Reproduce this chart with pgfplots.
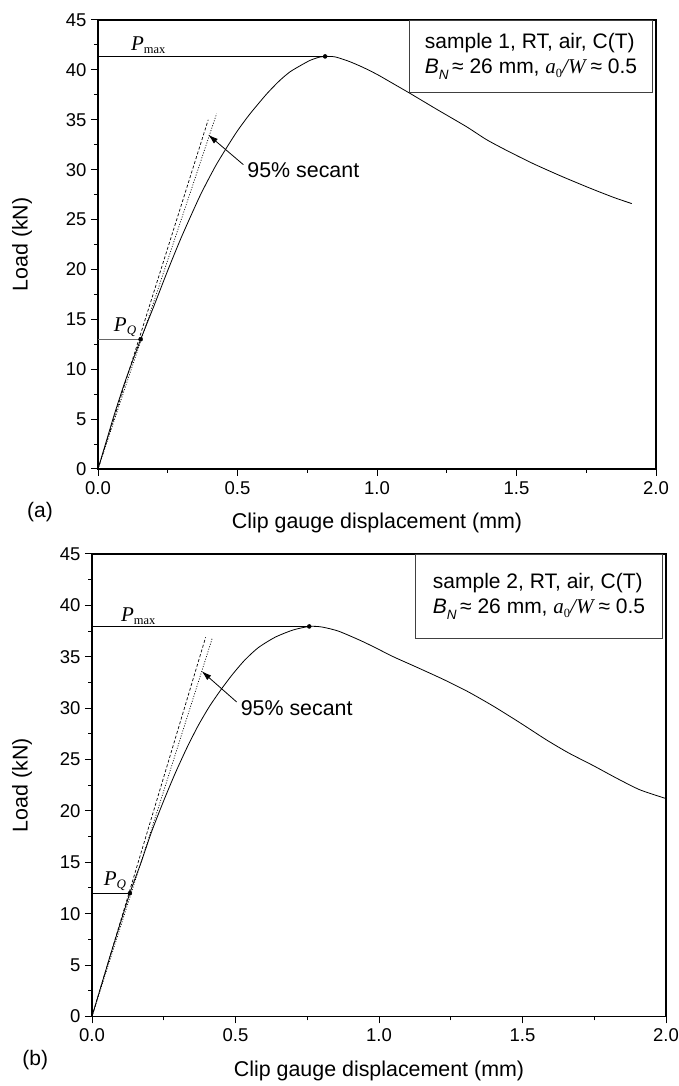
\documentclass[border=0pt]{standalone}
\usepackage{pgfplots}
\pgfplotsset{compat=1.18}
\usepackage{pgfplotstable}
\usepackage{fontspec}
\setmainfont{Liberation Sans}
\newfontfamily\timesf{Liberation Serif}
\usetikzlibrary{arrows.meta}

\pgfplotstableread{
x y
0 0
0.03 2.8
0.06 5.6
0.10 9.0
0.153 13.0
0.20 16.3
0.25 19.9
0.30 23.3
0.366 27.4
0.42 30.3
0.461 32.2
0.50 33.9
0.545 35.6
0.605 37.6
0.65 38.9
0.688 39.8
0.73 40.5
0.76 40.95
0.79 41.25
0.814 41.35
0.85 41.3
0.90 40.85
0.95 40.25
1.0 39.55
1.05 38.75
1.118 37.65
1.214 36.05
1.321 34.3
1.393 33.0
1.47 31.85
1.56 30.6
1.66 29.35
1.763 28.15
1.85 27.2
1.913 26.6
}\curveA

\pgfplotstableread{
x y
0 0
0.03 2.8
0.07 6.5
0.132 12.0
0.17 14.9
0.208 18.0
0.25 21.0
0.289 23.6
0.33 26.1
0.370 28.3
0.41 30.2
0.452 31.9
0.49 33.3
0.533 34.7
0.58 35.9
0.638 36.9
0.70 37.6
0.757 37.95
0.80 37.9
0.858 37.5
0.934 36.6
0.986 35.9
1.05 35.0
1.13 34.0
1.224 32.8
1.31 31.6
1.398 30.2
1.49 28.6
1.584 26.9
1.66 25.65
1.747 24.4
1.83 23.15
1.909 22.05
2.0 21.2
}\curveB

\pgfplotsset{
  mystyle/.style={
    scale only axis,
    clip=false,
    xmin=0, xmax=2, ymin=0, ymax=45,
    xtick={0,0.5,1,1.5,2}, minor x tick num=1,
    ytick={0,5,...,45}, minor y tick num=1,
    tick align=outside,
    xtick pos=left, ytick pos=left,
    major tick length=7pt, minor tick length=4pt,
    every tick/.style={black, line width=1pt},
    axis line style={line width=1.3pt},
    tick label style={font=\fontsize{18.5}{20}\selectfont},
    /pgf/number format/assume math mode=true,
    xticklabel style={yshift=-2pt, /pgf/number format/fixed, /pgf/number format/fixed zerofill, /pgf/number format/precision=1},
    yticklabel style={xshift=-1pt},
    label style={font=\fontsize{21.4}{24}\selectfont},
    xlabel={Clip gauge displacement (mm)},
    ylabel={Load (kN)},
  }
}

\newcommand{\Pmax}{{\timesf\fontsize{21}{24}\selectfont\textit{P}\raisebox{-0.3ex}{\fontsize{12.5}{14}\selectfont max}}}
\newcommand{\PQ}{{\timesf\fontsize{21}{24}\selectfont\textit{P}\raisebox{-0.3ex}{\fontsize{13}{14}\selectfont\textit{Q}}}}
\newcommand{\boxline}{\textit{B}\raisebox{-0.55ex}{\fontsize{13.5}{14}\selectfont\textit{N}}\,≈ 26 mm, {\timesf\textit{a}\raisebox{-0.45ex}{\fontsize{12.5}{13}\selectfont 0}\textit{/W}}\,≈ 0.5}

\begin{document}
\begin{tikzpicture}
\useasboundingbox (0,0) rectangle (679pt,1086pt);

% ---------- (a) ----------
\begin{axis}[mystyle,
  at={(98pt,617pt)}, anchor=south west,
  width=558pt, height=449pt,
  xlabel style={at={(axis description cs:0.5,-0.120)}, anchor=center},
  ylabel style={at={(axis description cs:-0.136,0.5)}, anchor=center},
]
\addplot[black, line width=0.8pt] coordinates {(0,41.35) (0.814,41.35)};
\addplot[black!60, line width=1pt] coordinates {(0,13.0) (0.153,13.0)};
\addplot[black, line width=0.7pt, dash pattern=on 3pt off 2pt] coordinates {(0,0) (0.395,35.0)};
\addplot[black, line width=0.7pt, dash pattern=on 1pt off 1.6pt] coordinates {(0,0) (0.425,35.6)};
\addplot[black, line width=0.8pt, smooth, tension=0.4] table[x=x,y=y] {\curveA};
\addplot[only marks, mark=*, mark size=2pt, black] coordinates {(0.814,41.35) (0.153,13.0)};
\draw[-{Latex[length=10pt,width=6pt]}, line width=0.8pt] (axis cs:0.521,30.5) -- (axis cs:0.395,33.5);
\node[anchor=west, font=\fontsize{21.4}{24}\selectfont] at (axis cs:0.523,30.0) {95\% secant};
\node[anchor=base] at (axis cs:0.18,41.9) {\Pmax};
\node[anchor=base] at (axis cs:0.097,13.75) {\PQ};
\node[draw=black!75, line width=0.9pt, anchor=north east, xshift=-3pt,
      minimum width=243pt, minimum height=72pt, inner sep=0pt, align=left,
      font=\fontsize{21}{25}\selectfont] at (rel axis cs:1,1)
  {sample 1, RT, air, C(T)\\ \boxline};
\node[font=\fontsize{21}{24}\selectfont] at (axis description cs:-0.104,-0.096) {(a)};
\end{axis}

% ---------- (b) ----------
\begin{axis}[mystyle,
  at={(92pt,69.6pt)}, anchor=south west,
  width=574pt, height=462.4pt,
  xlabel style={at={(axis description cs:0.5,-0.117)}, anchor=center},
  ylabel style={at={(axis description cs:-0.122,0.5)}, anchor=center},
]
\addplot[black, line width=0.8pt] coordinates {(0,37.95) (0.757,37.95)};
\addplot[black, line width=0.8pt] coordinates {(0,11.99) (0.132,11.99)};
\addplot[black, line width=0.7pt, dash pattern=on 3pt off 2pt] coordinates {(0,0) (0.396,36.9)};
\addplot[black, line width=0.7pt, dash pattern=on 1pt off 1.6pt] coordinates {(0,0) (0.419,36.8)};
\addplot[black, line width=0.8pt, smooth, tension=0.4] table[x=x,y=y] {\curveB};
\addplot[only marks, mark=*, mark size=2pt, black] coordinates {(0.757,37.95) (0.132,11.99)};
\draw[-{Latex[length=10pt,width=6pt]}, line width=0.8pt] (axis cs:0.504,30.6) -- (axis cs:0.382,33.6);
\node[anchor=west, font=\fontsize{21.4}{24}\selectfont] at (axis cs:0.506,30.0) {95\% secant};
\node[anchor=base] at (axis cs:0.161,38.45) {\Pmax};
\node[anchor=base] at (axis cs:0.08,12.75) {\PQ};
\node[draw=black!75, line width=0.9pt, anchor=north east, xshift=-3pt,
      minimum width=247pt, minimum height=84pt, inner sep=0pt, align=left,
      font=\fontsize{21}{25}\selectfont] at (rel axis cs:1,1)
  {sample 2, RT, air, C(T)\\ \boxline};
\node[font=\fontsize{21}{24}\selectfont] at (axis description cs:-0.099,-0.095) {(b)};
\end{axis}
\end{tikzpicture}
\end{document}
